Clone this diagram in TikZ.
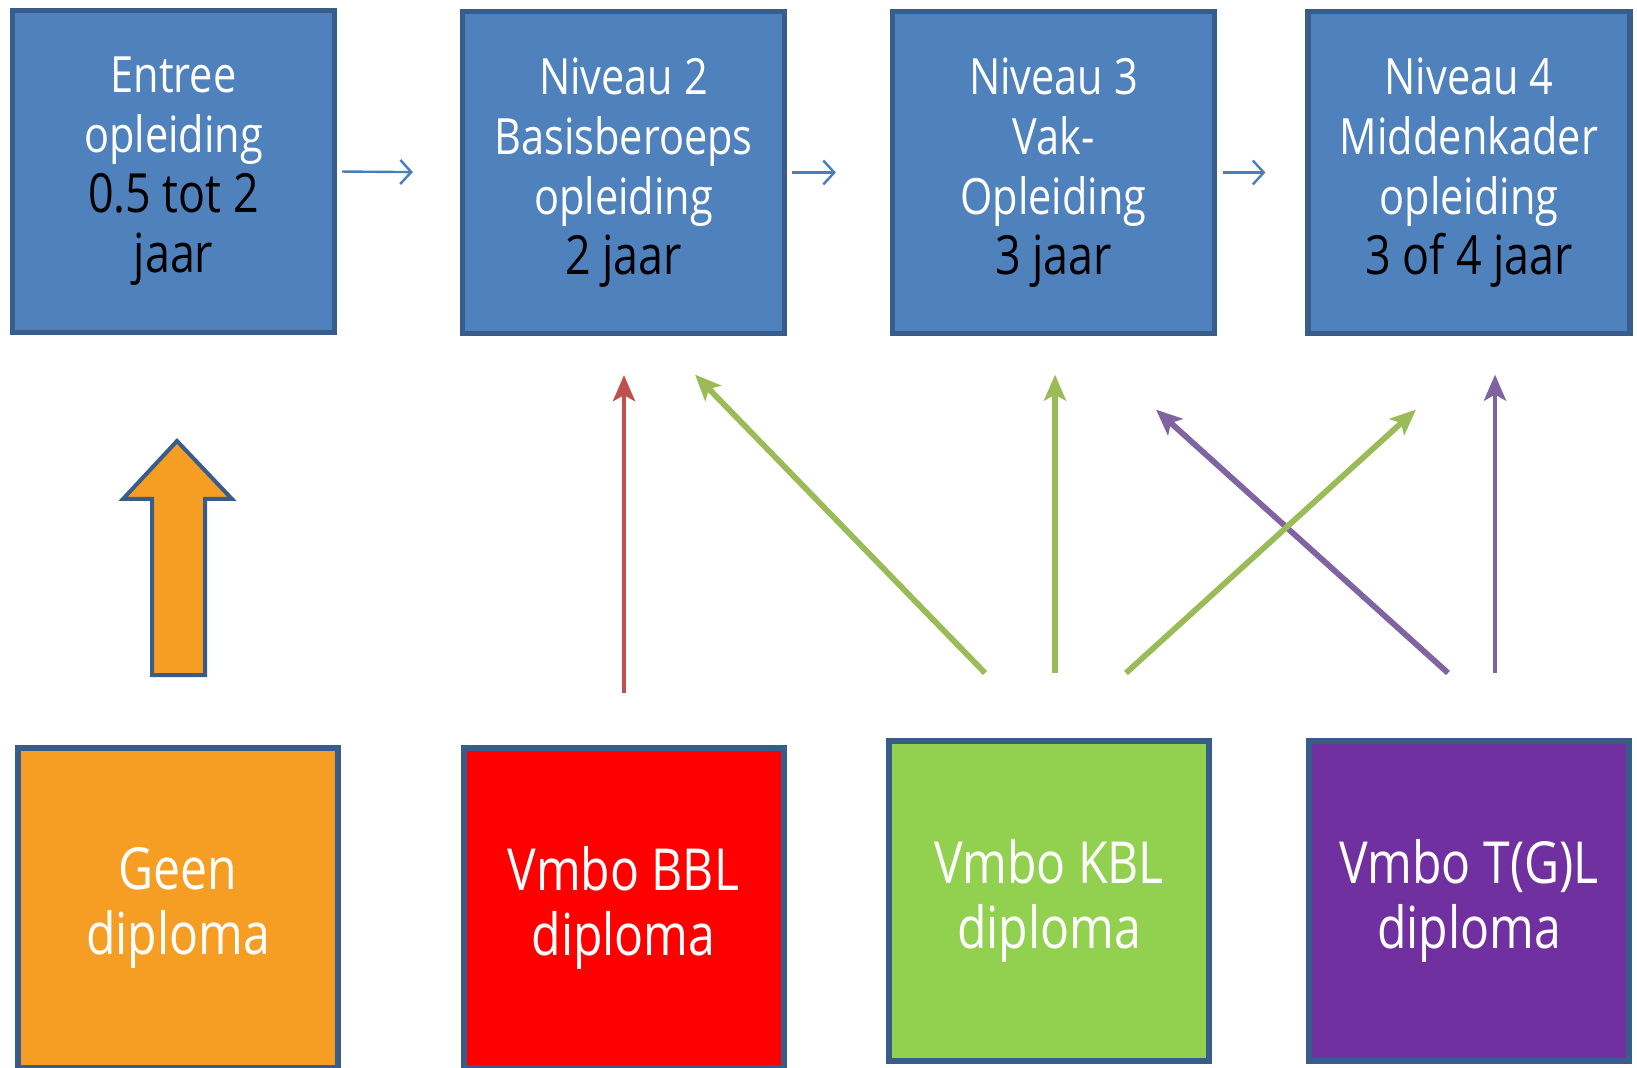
\documentclass[tikz,border=0pt]{standalone}
\usepackage{fontspec}
\usepackage{xcolor}
\usepackage{tikz}
\usetikzlibrary{arrows.meta,calc,positioning}
\newfontfamily\boxfont[FakeStretch=0.83]{Open Sans}
\definecolor{niveaublue}{HTML}{4F81BD}
\definecolor{randblue}{HTML}{385D8A}
\definecolor{pijlblue}{HTML}{4A7EBB}
\definecolor{geenorange}{RGB}{246,158,36}
\definecolor{bblred}{HTML}{FF0000}
\definecolor{kblgreen}{HTML}{92D050}
\definecolor{tglpurple}{HTML}{7030A0}
\definecolor{pijlred}{HTML}{C0504D}
\definecolor{pijlgreen}{HTML}{9BBB59}
\definecolor{pijlpurple}{HTML}{8064A2}
\tikzset{>={Stealth[length=13pt,width=11pt,inset=3pt]}}
\newcommand{\jr}[1]{{\color{black}\fontsize{27}{31}\selectfont #1}}

\begin{document}
\begin{tikzpicture}[x=0.5pt,y=-0.5pt,
              niveau/.style={draw=randblue, fill=niveaublue, line width=2.6pt, minimum width=161pt, minimum height=161pt, inner sep=0pt, text=white, align=center, font=\boxfont\fontsize{25}{30}\selectfont},
              diploma/.style={draw=randblue, line width=3pt, minimum width=160pt, minimum height=160pt, inner sep=0pt, text=white, align=center, font=\boxfont\fontsize{29}{32.5}\selectfont},
              doorstroom/.style={-{Straight Barb[length=5.5pt,width=12pt]}, draw=pijlblue, line width=1.2pt},
              overstap/.style={->, line width=2.9pt},
             ]

\useasboundingbox (0,0) rectangle (1637,1068);
\clip (0,0) rectangle (1637,1068);

\node[niveau] (entree) at (173.5,171.5) {Entree\\opleiding\\\jr{0.5 tot 2}\\\jr{jaar}};
\node[niveau] (niv2) at (623.5,172.5) {Niveau 2\\Basisberoeps\\opleiding\\\jr{2 jaar}};
\node[niveau] (niv3) at (1053.5,172.5) {Niveau 3\\Vak-\\Opleiding\\\jr{3 jaar}};
\node[niveau] (niv4) at (1469,172.5) {Niveau 4\\Middenkader\\opleiding\\\jr{3 of 4 jaar}};

\draw[doorstroom, shorten <=2.5pt, shorten >=23.5pt] (entree.east) -- (niv2.west);
\draw[doorstroom, shorten <=2.5pt, shorten >=27pt] (niv2.east) -- (niv3.west);
\draw[doorstroom, shorten <=3pt, shorten >=20pt] (niv3.east) -- (niv4.west);

\node[diploma, fill=geenorange] (geen) at (178,908) {Geen\\diploma};
\node[diploma, fill=bblred] (bbl) at (623.5,908) {Vmbo BBL\\diploma};
\node[diploma, fill=kblgreen] (kbl) at (1049,901) {Vmbo KBL\\diploma};
\node[diploma, fill=tglpurple] (tgl) at (1469,901) {Vmbo T(G)L\\diploma};

\draw[draw=randblue, fill=geenorange, line width=2pt] (152,675) -- (152,499) -- (123,499) -- (177,441) -- (232,499) -- (205,499) -- (205,675) -- cycle;

\draw[overstap, pijlred, line width=2.4pt] ($(bbl.north)+(0.5,-52)$) -- ($(niv2.south)+(0.5,39)$);
\draw[overstap, pijlgreen] ($(kbl.north)+(-64,-65)$) -- ($(niv2.south)+(71.5,38.5)$);
\draw[overstap, pijlgreen] ($(kbl.north)+(6,-65)$) -- ($(niv3.south)+(1.5,38.5)$);
\draw[overstap, pijlpurple] ($(tgl.north)+(-21,-65)$) -- ($(niv3.south)+(102.5,73.5)$);
\draw[overstap, pijlgreen] ($(kbl.north)+(77,-65)$) -- ($(niv4.south)+(-53,73.5)$);
\draw[overstap, pijlpurple, line width=2.4pt] ($(tgl.north)+(26,-65)$) -- ($(niv4.south)+(26,38.5)$);
\end{tikzpicture}
\end{document}
